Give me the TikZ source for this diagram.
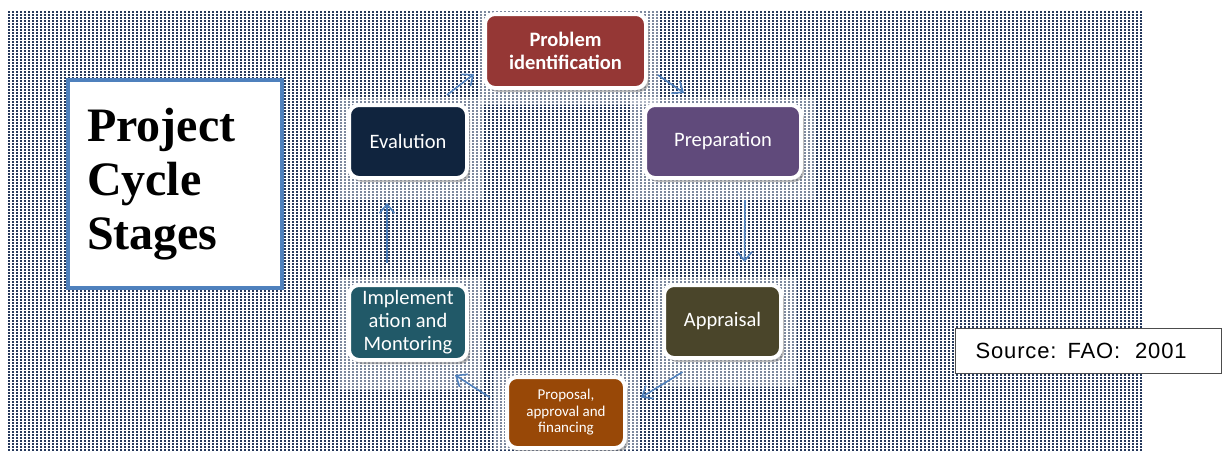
\documentclass[tikz,border=0pt]{standalone}
\usepackage{fontspec}
\setmainfont{Carlito}
\newfontfamily\titlefont{Liberation Serif}
\newfontfamily\srcfont[LetterSpace=4]{Liberation Sans}
\usetikzlibrary{arrows.meta,calc,shadows}

\definecolor{bgnavy}{HTML}{26395C}
\definecolor{titleblue}{HTML}{4F81BD}
\definecolor{flowblue}{HTML}{4F81BD}
\definecolor{probred}{HTML}{953735}
\definecolor{preppurple}{HTML}{604A7B}
\definecolor{evalnavy}{HTML}{10243E}
\definecolor{apprilive}{HTML}{4A452A}
\definecolor{implteal}{HTML}{215968}
\definecolor{propbrown}{HTML}{984807}

\begin{document}
\begin{tikzpicture}[x=1pt,y=-1pt,
    stage/.style={draw=white, line width=4pt, rounded corners=10pt, text=white, align=center,
      font=\fontsize{20.5}{23}\selectfont,
      drop shadow={shadow xshift=3pt, shadow yshift=-4pt, fill opacity=0.55}},
    flow/.style={draw=flowblue, line width=1.6pt, -{Straight Barb[length=9pt,width=15pt]}},
    dotrow/.style={draw=bgnavy, line width=2pt, dash pattern=on 2pt off 2pt},
    glow/.style={fill=white, fill opacity=0.4}]

    \useasboundingbox (0,0) rectangle (1224,450);
%   dotted background
    \foreach \y in {12,15,...,450}
      \draw[dotrow] (8,\y) -- (1143,\y);

%   lighter patches behind the stages
    \fill[glow] (478,10) rectangle (660,105);
    \fill[glow] (340,97) rectangle (483,200);
    \fill[glow] (630,97) rectangle (815,200);
    \fill[glow] (340,277) rectangle (483,390);
    \fill[glow] (653,277) rectangle (797,387);
    \fill[glow] (493,370) rectangle (640,450);

    \node[draw=titleblue, line width=4.5pt, fill=white, minimum width=214pt, minimum height=208pt,
      text width=176pt, align=left, font=\titlefont\bfseries\fontsize{48}{54}\selectfont]
      (title) at (175,184) {Project\\Cycle\\Stages};

    \node[stage, fill=probred, minimum width=161pt, minimum height=74pt,
      font=\bfseries\fontsize{20.5}{23}\selectfont] (prob) at (565.5,51) {Problem\\identification};
    \node[stage, fill=preppurple, minimum width=156pt, minimum height=73pt] (prep) at (723,141.5) {Preparation};
    \node[stage, fill=apprilive, minimum width=117pt, minimum height=73pt] (appr) at (722.5,321.5) {Appraisal};
    \node[stage, fill=propbrown, minimum width=118pt, minimum height=71pt,
      font=\fontsize{15}{16.5}\selectfont] (prop) at (566,412.5) {Proposal,\\approval and\\financing};
    \node[stage, fill=implteal, minimum width=118pt, minimum height=75pt] (impl) at (408,322.5) {Implement\\ation and\\Montoring};
    \node[stage, fill=evalnavy, minimum width=118pt, minimum height=73pt] (eval) at (408,141.5) {Evalution};

    \draw[flow] ($(eval.north east)+(-22,-8)$) -- ($(prob.west)+(-9,23)$);
    \draw[flow] ($(prob.east)+(10,24)$) -- ($(prep.north)+(-39,-10)$);
    \draw[flow] ($(prep.south)+(22,20)$) -- ($(appr.north)+(22,-21)$);
    \draw[flow] ($(appr.south)+(-40,12)$) -- ($(prop.east)+(14,-15)$);
    \draw[flow] ($(prop.west)+(-15,-15)$) -- ($(impl.south east)+(-14,13)$);
    \draw[flow] ($(impl.north)+(-21,-20)$) -- ($(eval.south)+(-21,23)$);

    \node[draw=black!70, line width=0.8pt, fill=white, minimum width=266pt, minimum height=45pt,
      text width=226pt, align=left, font=\srcfont\fontsize{22}{26}\selectfont]
      (src) at (1088.5,351) {Source: FAO:~~2001};

\end{tikzpicture}
\end{document}
